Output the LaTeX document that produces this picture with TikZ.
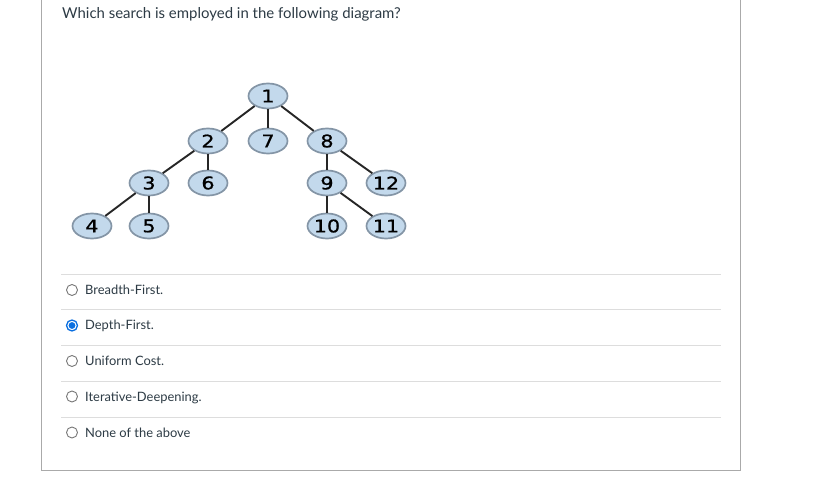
\documentclass[tikz,border=0pt]{standalone}
\usepackage{fontspec}
\setmainfont{Lato}
\newfontfamily\nodefont[FakeBold=0.8]{DejaVu Sans}
\usetikzlibrary{shapes.geometric}
\definecolor{nodefill}{HTML}{C3D9EC}
\definecolor{nodeborder}{HTML}{8495A6}
\definecolor{framegray}{HTML}{AAAAAA}
\definecolor{sepgray}{HTML}{DDDDDD}
\definecolor{radiogray}{HTML}{777777}
\definecolor{radioblue}{HTML}{0A6FE0}
\definecolor{textgray}{HTML}{2D3B45}
\newcommand{\wide}[1]{\scalebox{1.18}[1]{#1}}
\begin{document}
\begin{tikzpicture}[x=1pt,y=-1pt,
  tnode/.style={ellipse, draw=nodeborder, line width=1.7pt, fill=nodefill,
    minimum width=39pt, minimum height=25pt, inner sep=0pt,
    font=\nodefont\fontsize{17.5}{17.5}\selectfont},
  tedge/.style={draw=black!85, line width=1.9pt},
  sepline/.style={draw=sepgray, line width=1pt},
  radio/.style={circle, draw=radiogray, line width=0.9pt, fill=white, minimum size=11pt, inner sep=0pt},
  radiosel/.style={circle, draw=radioblue, line width=1.3pt, fill=white, minimum size=11pt, inner sep=0pt},
  opt/.style={anchor=base west, inner sep=0pt, text=textgray, font=\fontsize{12.9}{12.9}\selectfont},
]
\useasboundingbox (0,0) rectangle (820,481);
\fill[white] (0,0) rectangle (820,481);
% frame
\draw[framegray, line width=1.5pt] (41.5,0) -- (41.5,470.5) -- (740.5,470.5) -- (740.5,0);
% question
\node[anchor=base west, inner sep=0pt, text=textgray, font=\fontsize{14.95}{14.95}\selectfont] (q) at (62,18.5) {Which search is employed in the following diagram?};
% tree
\node[tnode] (n1) at (268,96) {\wide{1}};
\node[tnode] (n2) at (208,141) {\wide{2}};
\node[tnode] (n7) at (268,141) {\wide{7}};
\node[tnode] (n8) at (327,141) {\wide{8}};
\node[tnode] (n3) at (149,183) {\wide{3}};
\node[tnode] (n6) at (208,183) {\wide{6}};
\node[tnode] (n9) at (327,183) {\wide{9}};
\node[tnode] (n12) at (386,183) {\wide{12}};
\node[tnode] (n4) at (92,226) {\wide{4}};
\node[tnode] (n5) at (149,226) {\wide{5}};
\node[tnode] (n10) at (327,226) {\wide{10}};
\node[tnode] (n11) at (386,226) {\wide{11}};
\draw[tedge] (n1) -- (n2);
\draw[tedge] (n1) -- (n7);
\draw[tedge] (n1) -- (n8);
\draw[tedge] (n2) -- (n3);
\draw[tedge] (n2) -- (n6);
\draw[tedge] (n3) -- (n4);
\draw[tedge] (n3) -- (n5);
\draw[tedge] (n8) -- (n9);
\draw[tedge] (n8) -- (n12);
\draw[tedge] (n9) -- (n10);
\draw[tedge] (n9) -- (n11);
% separators
\foreach \yy in {274.5,309.5,345.5,381.5,417.5}
  \draw[sepline] (61,\yy) -- (721,\yy);
% options
\node[radio] (r1) at (72,290) {};
\node[opt] (o1) at (85,294.5) {Breadth-First.};
\node[radiosel] (r2) at (72,325.5) {};
\fill[radioblue] (r2.center) circle (3.4pt);
\node[opt] (o2) at (85,330) {Depth-First.};
\node[radio] (r3) at (72,361) {};
\node[opt] (o3) at (85,365.5) {Uniform Cost.};
\node[radio] (r4) at (72,396.5) {};
\node[opt] (o4) at (85,401) {Iterative-Deepening.};
\node[radio] (r5) at (72,432.5) {};
\node[opt] (o5) at (85,437) {None of the above};
\end{tikzpicture}
\end{document}
